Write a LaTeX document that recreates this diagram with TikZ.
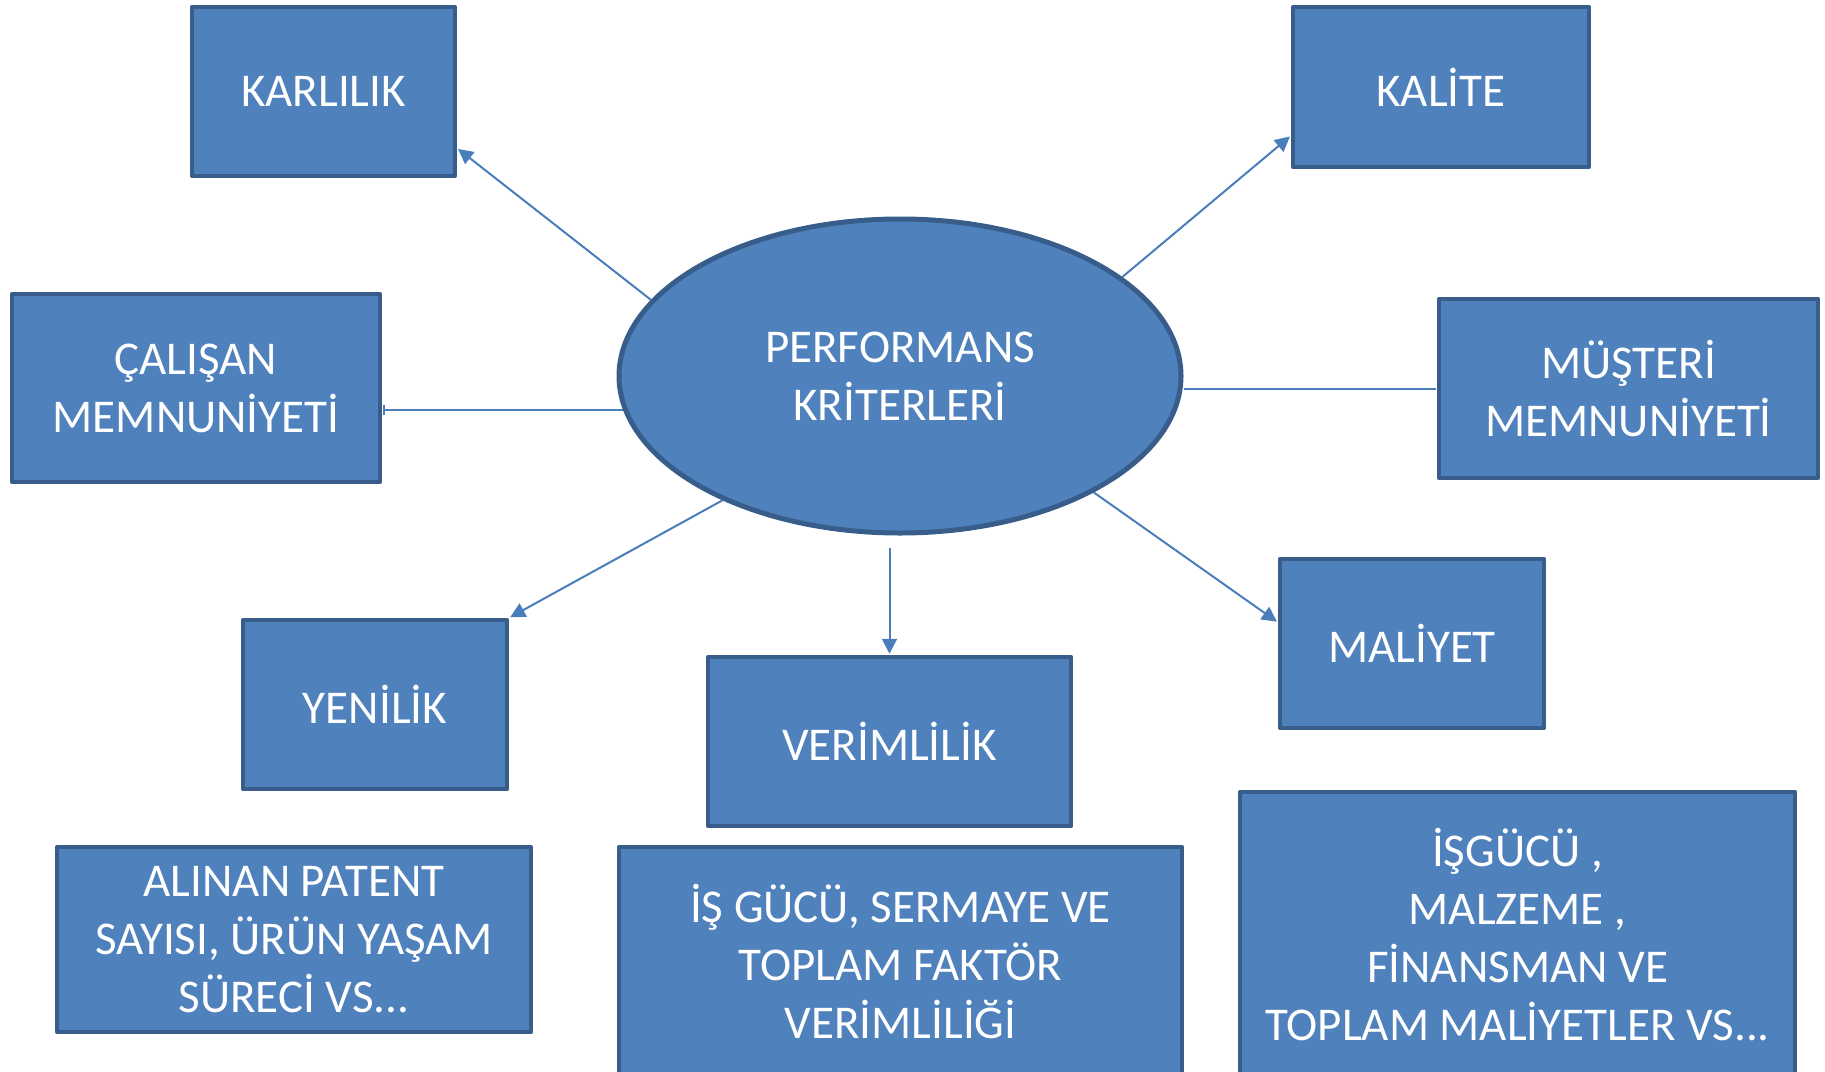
\documentclass[tikz,border=0pt]{standalone}
\usepackage{fontspec}
\setmainfont{Carlito}
\usetikzlibrary{shapes,arrows.meta}
\definecolor{kutumavi}{HTML}{4F81BD}
\definecolor{kenarmavi}{HTML}{385D8A}
\definecolor{okmavi}{HTML}{4A7EBB}

\begin{document}
\begin{tikzpicture}[x=1pt,y=-1pt,shorten >=1pt,line join=round]
\tikzstyle{kriter}=[rectangle,draw=kenarmavi,line width=4.5pt,fill=kutumavi,text=white,align=center,inner sep=0pt,font=\fontsize{47pt}{58pt}\selectfont]
\tikzstyle{merkez}=[kriter,ellipse,line width=5pt]
\tikzstyle{ok}=[color=okmavi,line width=2pt,-{Triangle[length=15pt,width=15pt]}]
\clip (0,0) rectangle (1825,1071);

\node[merkez,minimum width=562pt,minimum height=314pt](perf) at (900,376) {PERFORMANS\\KRİTERLERİ};
\node[kriter,minimum width=263pt,minimum height=169pt](karl) at (323.5,91.5) {KARLILIK};
\node[kriter,minimum width=296pt,minimum height=160pt](kalite) at (1441,87) {KALİTE};
\node[kriter,minimum width=368pt,minimum height=188pt](calisan) at (196,388) {ÇALIŞAN\\MEMNUNİYETİ};
\node[kriter,minimum width=379pt,minimum height=179pt](musteri) at (1628.5,388.5) {MÜŞTERİ\\MEMNUNİYETİ};
\node[kriter,minimum width=264pt,minimum height=169pt](yenilik) at (375,704.5) {YENİLİK};
\node[kriter,minimum width=363pt,minimum height=169pt](verim) at (889.5,741.5) {VERİMLİLİK};
\node[kriter,minimum width=264pt,minimum height=169pt](maliyet) at (1412,643.5) {MALİYET};
\node[kriter,minimum width=474pt,minimum height=185pt](patent) at (294,939.5) {ALINAN PATENT\\SAYISI, ÜRÜN YAŞAM\\SÜRECİ VS...};
\node[kriter,minimum width=563pt,minimum height=228pt](isgucu) at (900.5,961) {İŞ GÜCÜ, SERMAYE VE\\TOPLAM FAKTÖR\\VERİMLİLİĞİ};
\node[kriter,minimum width=555pt,minimum height=284pt](maliyetler) at (1517.5,934) {İŞGÜCÜ ,\\MALZEME ,\\FİNANSMAN VE\\TOPLAM MALİYETLER VS...};

\path (perf.163) edge[ok] (karl.-23) % simple edges
      (perf.24) edge[ok] (kalite.198)
      (perf.215) edge[ok] (yenilik.north east)
      (perf.-31) edge[ok] (maliyet.171);
\draw[ok,shorten <=12pt] (verim.north |- perf.south) -- (verim.north);
\draw[color=okmavi,line width=2pt,-{Bar[width=10pt]}] (perf.187) -- (perf.187 -| calisan.east);
\draw[color=okmavi,line width=2pt] (perf.east |- musteri.west) -- (musteri.west);

\end{tikzpicture}
\end{document}
